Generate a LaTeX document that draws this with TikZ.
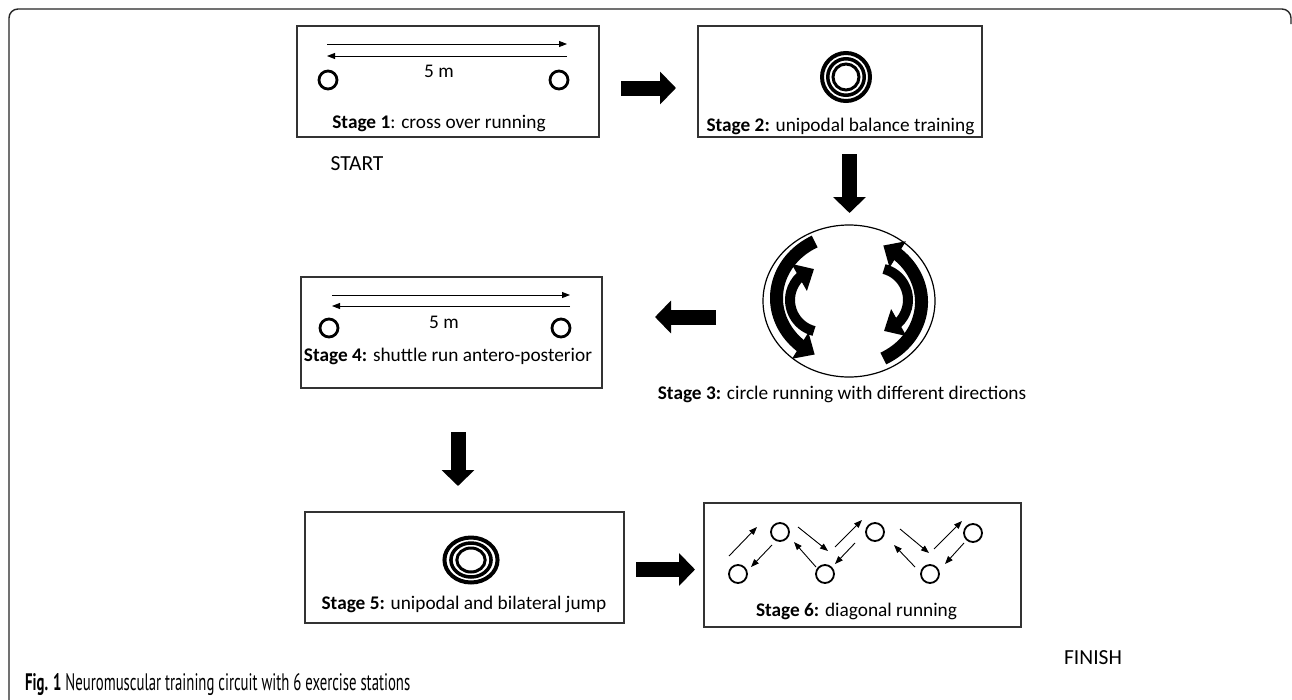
\documentclass[tikz,border=0pt]{standalone}
\usepackage{fontspec}
\usepackage{graphicx}
\setmainfont{Carlito}
\newfontfamily\capfont{PT Sans}
\usetikzlibrary{arrows.meta,bending,shapes.geometric}
\begin{document}
\begin{tikzpicture}[x=1pt,y=-1pt,
  stagebox/.style={draw=black!80,line width=1.3pt,inner sep=0pt},
  lbl/.style={font=\fontsize{19.3}{23}\selectfont,inner sep=0pt,anchor=base},
  marker/.style={font=\fontsize{21.5}{25}\selectfont,inner sep=0pt,anchor=base},
  cone/.style={draw,circle,line width=2.8pt,minimum size=18pt,inner sep=0pt},
  spot/.style={draw,circle,line width=1.8pt,minimum size=18pt,inner sep=0pt},
  thinarrow/.style={line width=0.9pt,-{Triangle[length=8pt,width=6pt]}},
  blockarrow/.style={line width=15pt,-{Triangle[length=16pt,width=32pt]}},
  swirl/.style={line width=#1,-{Triangle[length=17pt,width=30pt]}},
]
\path[use as bounding box,fill=white] (0,0) rectangle (1292,699);

% page frame
\draw[line width=1.4pt,black!85,rounded corners=9pt] (9,700) -- (9,9) -- (1291,9) -- (1291,24);

% ---------- Stage 1 ----------
\node[stagebox,minimum width=302pt,minimum height=111pt] (s1) at (448,81.5) {};
\node[cone] (s1l) at (328,80) {};
\node[cone] (s1r) at (559,80) {};
\coordinate (s1a) at (327,44); \coordinate (s1b) at (567,44);
\coordinate (s1c) at (567,56); \coordinate (s1d) at (327,56);
\draw[thinarrow] (s1a) -- (s1b);
\draw[thinarrow] (s1c) -- (s1d);
\node[lbl] (s1m) at (439,77) {5 m};
\node[lbl] (s1t) at (439,128.5) {\textbf{Stage 1}: cross over running};
\node[marker] (start) at (357,170) {START};

% ---------- Stage 2 ----------
\node[stagebox,minimum width=284pt,minimum height=111pt] (s2) at (840,81.5) {};
\begin{scope}[shift={(846,77)}]
  \draw[line width=4pt] (0,0) circle[radius=24];
  \draw[line width=3.5pt] (0,0) circle[radius=18.25];
  \draw[line width=3pt] (0,0) circle[radius=13];
\end{scope}
\node[lbl] (s2t) at (840.5,131) {\textbf{Stage 2:} unipodal balance training};

% ---------- Stage 3 ----------
\node[draw,ellipse,line width=1.2pt,minimum width=172pt,minimum height=152pt,inner sep=0pt] (s3) at (849,301) {};
\draw[swirl=13pt] (814.7,241.5) arc[start angle=242,end angle=118,x radius=72,y radius=64];
\draw[swirl=10pt] (814,331) arc[start angle=104.5,end angle=255.5,radius=32];
\begin{scope}[rotate around={180:(849,300)}]
  \draw[swirl=13pt] (814.7,241.5) arc[start angle=242,end angle=118,x radius=72,y radius=64];
  \draw[swirl=10pt] (814,331) arc[start angle=104.5,end angle=255.5,radius=32];
\end{scope}
\node[lbl] (s3t) at (842,399) {\textbf{Stage 3:} circle running with different directions};

% ---------- Stage 4 ----------
\node[stagebox,minimum width=301pt,minimum height=111pt] (s4) at (451.5,332.5) {};
\node[cone] (s4l) at (329,328) {};
\node[cone] (s4r) at (561,328) {};
\coordinate (s4a) at (332,295); \coordinate (s4b) at (570,295);
\coordinate (s4c) at (570,306); \coordinate (s4d) at (332,306);
\draw[thinarrow] (s4a) -- (s4b);
\draw[thinarrow] (s4c) -- (s4d);
\node[lbl] (s4m) at (444,328) {5 m};
\node[lbl] (s4t) at (448,361.5) {\textbf{Stage 4:} shuttle run antero-posterior};

% ---------- Stage 5 ----------
\node[stagebox,minimum width=319pt,minimum height=111pt] (s5) at (464.5,567.5) {};
\begin{scope}[shift={(471,560)},xscale=1.18]
  \draw[line width=4pt] (0,0) circle[radius=22.5];
  \draw[line width=3.5pt] (0,0) circle[radius=17];
  \draw[line width=3pt] (0,0) circle[radius=12];
\end{scope}
\node[lbl] (s5t) at (464,609) {\textbf{Stage 5:} unipodal and bilateral jump};

% ---------- Stage 6 ----------
\node[stagebox,minimum width=317pt,minimum height=124pt] (s6) at (862.5,565) {};
\node[spot] (d1) at (738,574) {};
\node[spot] (d2) at (780,532) {};
\node[spot] (d3) at (825,574) {};
\node[spot] (d4) at (875,532) {};
\node[spot] (d5) at (930,574) {};
\node[spot] (d6) at (973,533) {};
\coordinate (e1a) at (729,556); \coordinate (e1b) at (757,527);
\coordinate (e2a) at (772,545); \coordinate (e2b) at (751,567);
\coordinate (e3a) at (798,527); \coordinate (e3b) at (828,551);
\coordinate (e4a) at (816,567); \coordinate (e4b) at (794,542);
\coordinate (e5a) at (835,547); \coordinate (e5b) at (862,520);
\coordinate (e6a) at (855,543); \coordinate (e6b) at (835,564);
\coordinate (e7a) at (900,529); \coordinate (e7b) at (929,553);
\coordinate (e8a) at (915,567); \coordinate (e8b) at (894,545);
\coordinate (e9a) at (934,549); \coordinate (e9b) at (962,521);
\coordinate (e10a) at (964,543); \coordinate (e10b) at (945,564);
\foreach \k in {1,...,10} \draw[thinarrow] (e\k a) -- (e\k b);
\node[lbl] (s6t) at (856.5,616.5) {\textbf{Stage 6:} diagonal running};
\node[marker] (finish) at (1093,664) {FINISH};

% ---------- transitions between stations ----------
\coordinate (t1a) at (621,88);    \coordinate (t1b) at (676,88);
\coordinate (t2a) at (849.5,154); \coordinate (t2b) at (849.5,213);
\coordinate (t3a) at (716,317);   \coordinate (t3b) at (655,317);
\coordinate (t4a) at (458,432);   \coordinate (t4b) at (458,486);
\coordinate (t5a) at (636,569.5); \coordinate (t5b) at (695,569.5);
\draw[blockarrow] (t1a) -- (t1b);
\draw[blockarrow] (t2a) -- (t2b);
\draw[blockarrow] (t3a) -- (t3b);
\draw[blockarrow] (t4a) -- (t4b);
\draw[blockarrow] (t5a) -- (t5b);

% caption
\node[anchor=base west,inner sep=0pt] (cap) at (25,690)
  {\resizebox{385pt}{17pt}{\capfont\textbf{Fig. 1} Neuromuscular training circuit with 6 exercise stations}};
\end{tikzpicture}
\end{document}
